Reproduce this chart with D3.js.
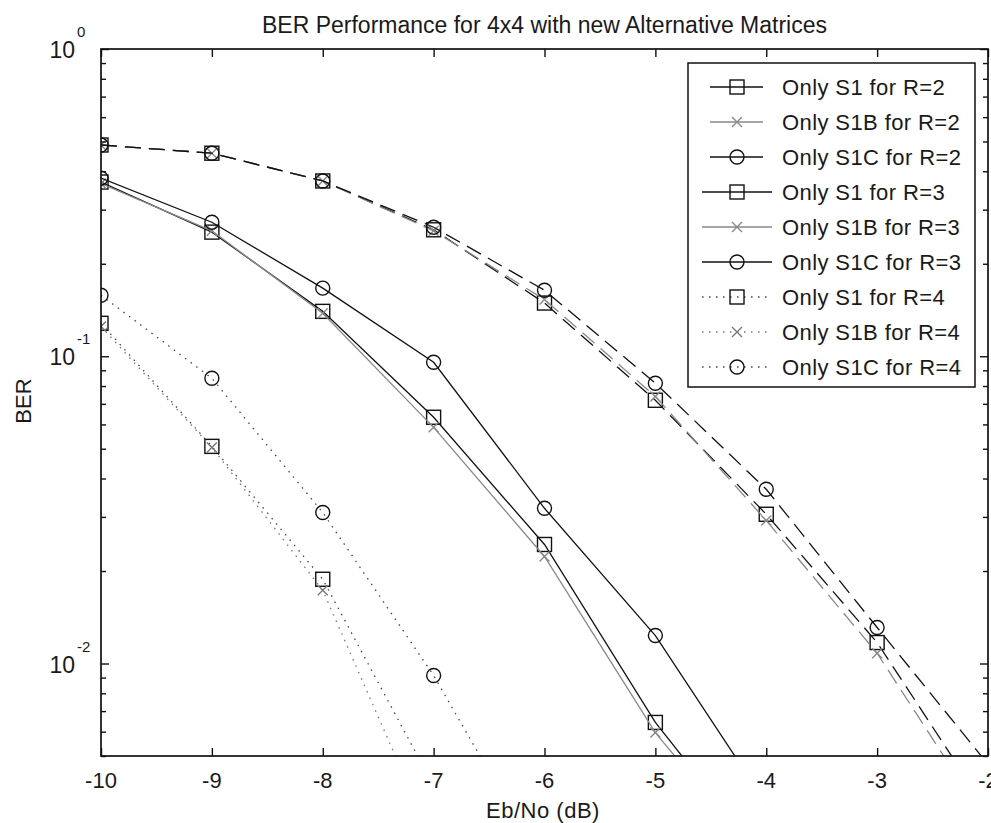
<!DOCTYPE html>
<html><head><meta charset="utf-8">
<script src="https://cdn.jsdelivr.net/npm/d3@7/dist/d3.min.js"></script>
<style>body{margin:0;background:#fff;} text{font-family:"Liberation Sans",Arial,sans-serif;fill:#1a1a1a;}</style>
</head><body><svg id="c" width="991" height="823"></svg>
<script>
const xValues = [-10,-9,-8,-7,-6,-5,-4,-3,-2];
const xTicks = [-10,-9,-8,-7,-6,-5,-4,-3,-2];
const yMajor = [1, 0.1, 0.01];
const yTickExp = ["0","-1","-2"];
const R2_S1  = [0.487,0.458,0.372,0.258,0.149,0.0719,0.0306,0.0117,0.0033];
const R2_S1B = [0.487,0.458,0.372,0.256,0.153,0.0740,0.0292,0.0108,0.0030];
const R2_S1C = [0.487,0.458,0.372,0.263,0.164,0.0817,0.0369,0.0131,0.0047];
const R3_S1  = [0.369,0.2535,0.140,0.0633,0.0244,0.00643,0.00225];
const R3_S1B = [0.365,0.256,0.138,0.0587,0.0223,0.00596,0.00218];
const R3_S1C = [0.380,0.273,0.1666,0.0956,0.0320,0.01233,0.0035];
const R4_S1  = [0.128,0.0509,0.0188,0.0040];
const R4_S1B = [0.125,0.0505,0.0173,0.0026];
const R4_S1C = [0.158,0.0848,0.0310,0.00914,0.00216];
const seriesNames = ["Only S1 for R=2","Only S1B for R=2","Only S1C for R=2","Only S1 for R=3","Only S1B for R=3","Only S1C for R=3","Only S1 for R=4","Only S1B for R=4","Only S1C for R=4"];
const seriesData = [R2_S1,R2_S1B,R2_S1C,R3_S1,R3_S1B,R3_S1C,R4_S1,R4_S1B,R4_S1C];
const seriesMarker = ["square","x","circle","square","x","circle","square","x","circle"];
const seriesStyle = ["dash","dash","dash","solid","solid","solid","dot","dot","dot"];
const seriesColor = ["#111","#888","#111","#111","#888","#111","#444","#777","#444"];

const L=101,R=988,T=49,B=756;
const svg=d3.select("#c");
const x=d3.scaleLinear().domain([-10,-2]).range([L,R]);
const y=d3.scaleLog().domain([0.005,1]).range([B,T]);

svg.append("defs").append("clipPath").attr("id","clip").append("rect").attr("x",L).attr("y",T).attr("width",R-L).attr("height",B-T);

const dashes={dash:"16,8",solid:null,dot:"1.5,5.5"};
const g=svg.append("g").attr("clip-path","url(#clip)");
const line=d3.line().x(d=>x(d[0])).y(d=>y(d[1]));

function marker(sel,type,cx,cy,color){
  if(type==="square") sel.append("rect").attr("x",cx-7).attr("y",cy-7).attr("width",14).attr("height",14).attr("fill","none").attr("stroke",color).attr("stroke-width",1.4);
  else if(type==="circle") sel.append("circle").attr("cx",cx).attr("cy",cy).attr("r",7).attr("fill","none").attr("stroke",color).attr("stroke-width",1.4);
  else sel.append("path").attr("d",`M${cx-5},${cy-5}L${cx+5},${cy+5}M${cx-5},${cy+5}L${cx+5},${cy-5}`).attr("stroke",color).attr("stroke-width",1.4).attr("fill","none");
}

seriesData.forEach((vals,i)=>{
  const pts=vals.map((v,j)=>[xValues[j],v]);
  g.append("path").attr("d",line(pts)).attr("fill","none").attr("stroke",seriesColor[i]).attr("stroke-width",1.3).attr("stroke-dasharray",dashes[seriesStyle[i]]);
  pts.forEach(p=>marker(g,seriesMarker[i],x(p[0]),y(p[1]),seriesColor[i]==="#444"?"#111":seriesColor[i]));
});

// axes box
svg.append("rect").attr("x",L).attr("y",T).attr("width",R-L).attr("height",B-T).attr("fill","none").attr("stroke","#111").attr("stroke-width",1.7);

// x ticks
const xb=svg.append("g").attr("transform",`translate(0,${B})`).call(d3.axisBottom(x).tickValues(xTicks).tickSize(-8).tickFormat(""));
const xt=svg.append("g").attr("transform",`translate(0,${T})`).call(d3.axisTop(x).tickValues(xTicks).tickSize(-8).tickFormat(""));
[xb,xt].forEach(a=>{a.select(".domain").remove();a.selectAll("line").attr("stroke","#111").attr("stroke-width",1.4);});
xTicks.forEach(t=>{
  svg.append("text").attr("x",x(t)).attr("y",788).attr("text-anchor","middle").attr("font-size",22).text(t);
});

// y ticks major + minor
const minor=[];
[0.001,0.01,0.1].forEach(dec=>{for(let k=2;k<=9;k++){const v=dec*k;if(v>=0.005&&v<1)minor.push(v);}});
const yl=svg.append("g").attr("transform",`translate(${L},0)`).call(d3.axisLeft(y).tickValues(yMajor).tickSize(-8).tickFormat(""));
const yr=svg.append("g").attr("transform",`translate(${R},0)`).call(d3.axisRight(y).tickValues(yMajor).tickSize(-8).tickFormat(""));
const yl2=svg.append("g").attr("transform",`translate(${L},0)`).call(d3.axisLeft(y).tickValues(minor).tickSize(-5).tickFormat(""));
const yr2=svg.append("g").attr("transform",`translate(${R},0)`).call(d3.axisRight(y).tickValues(minor).tickSize(-5).tickFormat(""));
[yl,yr,yl2,yr2].forEach(a=>{a.select(".domain").remove();a.selectAll("line").attr("stroke","#111").attr("stroke-width",1.4);});

yMajor.forEach((v,i)=>{
  svg.append("text").attr("x",75).attr("y",y(v)+9).attr("text-anchor","end").attr("font-size",23).text("10");
  svg.append("text").attr("x",77).attr("y",y(v)-12).attr("font-size",15).text(yTickExp[i]);
});

// labels
svg.append("text").attr("x",(L+R)/2).attr("y",33).attr("text-anchor","middle").attr("font-size",23).text("BER Performance for 4x4 with new Alternative Matrices");
svg.append("text").attr("x",543).attr("y",818).attr("text-anchor","middle").attr("font-size",22).attr("letter-spacing",0.5).text("Eb/No (dB)");
svg.append("text").attr("transform","translate(31,401) rotate(-90)").attr("text-anchor","middle").attr("font-size",22).text("BER");

// legend
const lg=svg.append("g");
lg.append("rect").attr("x",688).attr("y",63).attr("width",287).attr("height",324).attr("fill","#fff").attr("stroke","#111").attr("stroke-width",1.5);
seriesNames.forEach((name,i)=>{
  const cy=87+i*35;
  const st=seriesStyle[i];
  const x0= st==="dash"?710:702, x1= st==="dash"?763:772;
  lg.append("line").attr("x1",x0).attr("x2",x1).attr("y1",cy).attr("y2",cy).attr("stroke",seriesColor[i]).attr("stroke-width",1.3).attr("stroke-dasharray",st==="dot"?dashes.dot:null);
  marker(lg,seriesMarker[i],737,cy,seriesColor[i]==="#444"?"#111":seriesColor[i]);
  lg.append("text").attr("x",782).attr("y",cy+8).attr("font-size",22).attr("letter-spacing",0.4).text(name);
});
</script></body></html>
